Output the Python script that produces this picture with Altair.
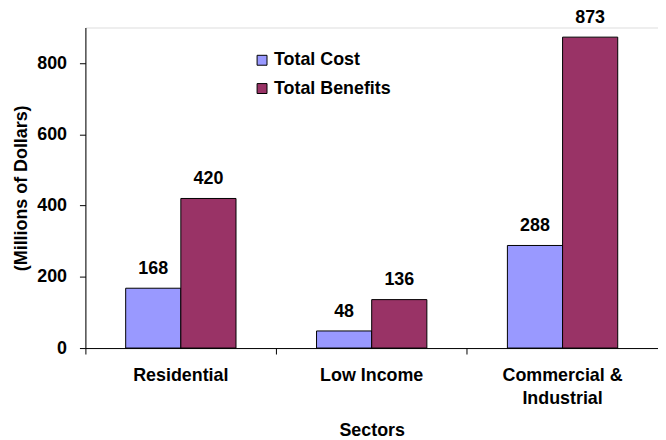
import altair as alt
import pandas as pd

sectors = ["Residential", "Low Income", "Commercial &|Industrial"]
series = ["Total Cost", "Total Benefits"]
total_cost = [168, 48, 288]
total_benefits = [420, 136, 873]

rows = []
for i, s in enumerate(sectors):
    rows.append({"Sector": s, "Series": series[0], "Value": total_cost[i]})
    rows.append({"Sector": s, "Series": series[1], "Value": total_benefits[i]})
df = pd.DataFrame(rows)

FONT = "Liberation Sans"
FS = 18
W, H = 577, 323

x = alt.X("Sector:N", sort=sectors, title="Sectors",
          scale=alt.Scale(paddingInner=0, paddingOuter=0),
          axis=alt.Axis(labelAngle=0, bandPosition=0,
                        labelExpr="split(datum.label, '|')",
                        labelLineHeight=23, labelPadding=13, tickSize=6,
                        labelFontSize=FS, labelFontWeight="bold", labelFont=FONT,
                        labelColor="#000", titleFontSize=FS, titleFontWeight="bold",
                        titleFont=FONT, titleColor="#000", titlePadding=14,
                        labelBound=False, labelOverlap=False, labelFlush=False,
                        domainColor="#000", tickColor="#000", labelBaseline="top"))
xoff = alt.XOffset("Series:N", sort=series,
                   scale=alt.Scale(paddingInner=0, paddingOuter=0.73))
y = alt.Y("Value:Q", title="(Millions of Dollars)",
          scale=alt.Scale(domain=[0, 900], nice=False),
          axis=alt.Axis(values=[0, 200, 400, 600, 800], grid=False, tickSize=6,
                        labelPadding=13, labelFontSize=FS, labelFontWeight="bold",
                        labelFont=FONT, labelColor="#000", titleFontSize=FS,
                        titleFontWeight="bold", titleFont=FONT, titleColor="#000",
                        titlePadding=6, domainColor="#000", tickColor="#000"))

color = alt.Color("Series:N", sort=series,
                  scale=alt.Scale(domain=series, range=["#9999FF", "#993366"]),
                  legend=alt.Legend(title=None, orient="none", legendX=169, legendY=24,
                                    symbolType="square", symbolSize=100,
                                    symbolStrokeColor="#000", symbolStrokeWidth=1,
                                    labelFontSize=FS, labelFontWeight="bold",
                                    labelFont=FONT, labelColor="#000", rowPadding=10.5,
                                    labelOffset=3))

bars = alt.Chart(df).mark_bar(stroke="#000", strokeWidth=1).encode(
    x=x, xOffset=xoff, y=y, color=color)

labels = alt.Chart(df).mark_text(baseline="alphabetic", dy=-14.5, fontSize=FS,
                                 fontWeight="bold", font=FONT, color="#000").encode(
    x=alt.X("Sector:N", sort=sectors), xOffset=xoff, y="Value:Q", text="Value:Q")

chart = alt.layer(bars, labels).properties(
    width=W, height=H,
    autosize=alt.AutoSizeParams(type="none"),
    padding={"left": 78, "top": 18, "right": 0, "bottom": 93},
).configure_view(stroke=None).configure(background="#ffffff")

chart.save("out.html", embed_options={"renderer": "svg", "actions": False})
